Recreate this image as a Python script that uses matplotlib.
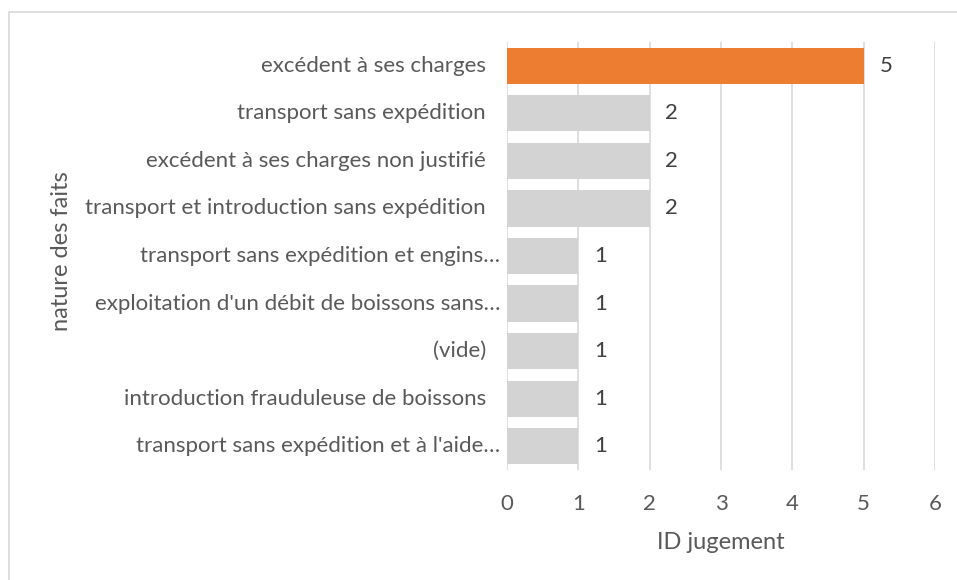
import matplotlib.pyplot as plt
import matplotlib.transforms as mtransforms
from matplotlib.patches import Rectangle

categories = [
    "excédent à ses charges",
    "transport sans expédition",
    "excédent à ses charges non justifié",
    "transport et introduction sans expédition",
    "transport sans expédition et engins…",
    "exploitation d'un débit de boissons sans…",
    "(vide)",
    "introduction frauduleuse de boissons",
    "transport sans expédition et à l'aide…",
]
values = [5, 2, 2, 2, 1, 1, 1, 1, 1]
highlight = [True, False, False, False, False, False, False, False, False]
x_ticks = [0, 1, 2, 3, 4, 5, 6]

ORANGE = "#ED7D31"
GREY_BAR = "#D3D3D3"
GRID = "#D9D9D9"
TEXT = "#595959"

plt.rcParams["font.family"] = ["Lato", "DejaVu Sans"]

W, H = 957, 580
fig = plt.figure(figsize=(W / 100, H / 100), dpi=100)

# chart border (right and bottom edges fall outside the picture)
fig.patches.append(Rectangle((9 / W, -0.05), 1.2, 1 - 12 / H + 0.05,
                             transform=fig.transFigure, fill=False,
                             edgecolor=GRID, linewidth=1.2))

ax = fig.add_axes([507 / W, 1 - 470 / H, (935 - 507) / W, (470 - 42) / H])

ypos = list(range(len(categories)))
colors = [ORANGE if h else GREY_BAR for h in highlight]
ax.barh(ypos, values, height=0.76, color=colors, zorder=2)
ax.set_ylim(len(categories) - 0.5, -0.5)
ax.set_xlim(0, 6)
ax.set_xticks(x_ticks)
ax.set_yticks(ypos)
ax.set_yticklabels([])

# category labels: Excel leaves a trailing gap on the untruncated ones
lab_tr = mtransforms.blended_transform_factory(ax.transAxes, ax.transData)
for y, name in zip(ypos, categories):
    gap = 7 if name.endswith("…") else 21
    off = mtransforms.ScaledTranslation(-gap / 100, 0, fig.dpi_scale_trans)
    ax.text(0, y, name, transform=lab_tr + off, ha="right", va="center",
            fontsize=16, color=TEXT)

for y, v in zip(ypos, values):
    ax.text(v + 0.22, y, str(v), ha="left", va="center", fontsize=16, color="#404040")

ax.grid(axis="x", color=GRID, linewidth=1.2, zorder=0)
for s in ax.spines.values():
    s.set_visible(False)
ax.tick_params(axis="both", length=0, labelsize=16, labelcolor=TEXT)
ax.tick_params(axis="x", pad=17)

ax.set_xlabel("ID jugement", fontsize=17, color=TEXT, labelpad=13)
fig.text(62 / W, 1 - 251 / H, "nature des faits", rotation=90, ha="center", va="center",
         fontsize=17, color=TEXT)

fig.savefig("out.png", dpi=100)
